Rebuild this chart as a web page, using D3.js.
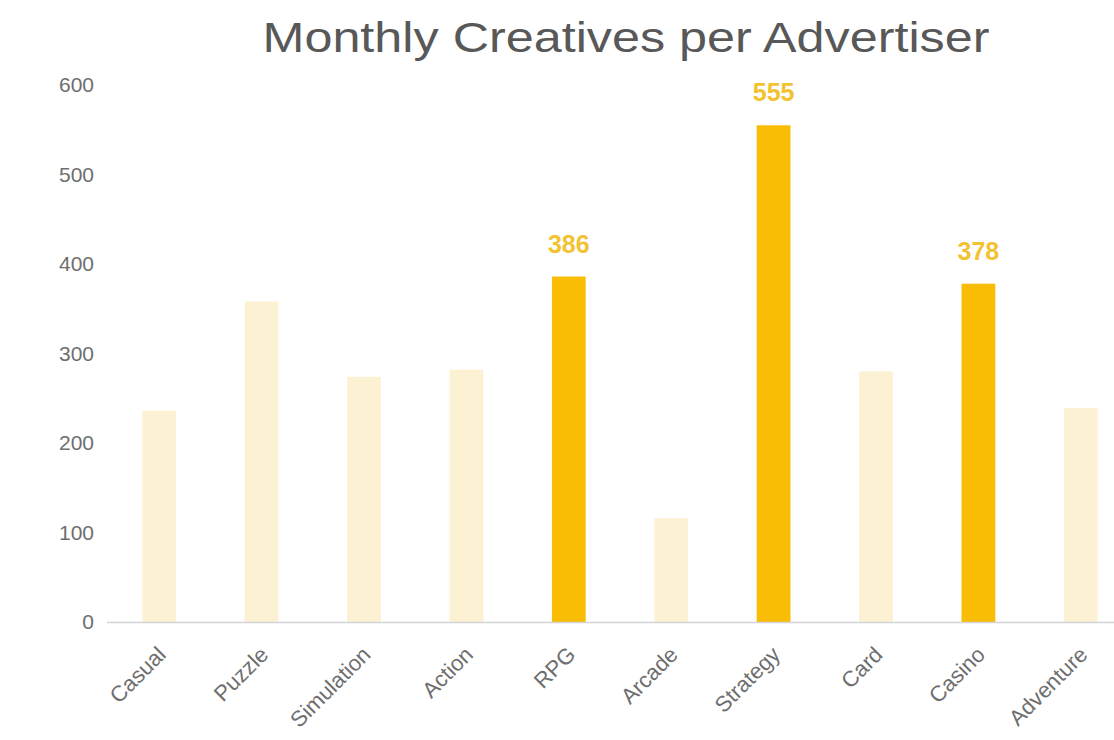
<!DOCTYPE html>
<html>
<head>
<meta charset="utf-8">
<script src="https://cdn.jsdelivr.net/npm/d3@7"></script>
<style>
  html, body { margin: 0; padding: 0; background: #fff; }
  svg { display: block; }
  text { font-family: "Liberation Sans", Arial, Helvetica, sans-serif; }
</style>
</head>
<body>
<svg id="chart" width="1114" height="740"></svg>
<script>
// Monthly creatives per advertiser, by game genre
const categories = ["Casual", "Puzzle", "Simulation", "Action", "RPG", "Arcade", "Strategy", "Card", "Casino", "Adventure"];
const creatives = [236, 358, 274, 282, 386, 116, 555, 280, 378, 239];
const highlighted = ["RPG", "Strategy", "Casino"];
const yTicks = [0, 100, 200, 300, 400, 500, 600];
const titleText = "Monthly Creatives per Advertiser";

const W = 1114, H = 740;
const svg = d3.select("#chart");

const x = d3.scaleBand()
  .domain(categories)
  .range([108, 1132])
  .paddingInner(0.67)
  .paddingOuter(0.335);

const y = d3.scaleLinear()
  .domain([0, 600])
  .range([622, 85]);

// Title
svg.append("text")
  .attr("x", 626)
  .attr("y", 52)
  .attr("text-anchor", "middle")
  .attr("font-size", 43)
  .attr("textLength", 727)
  .attr("lengthAdjust", "spacingAndGlyphs")
  .attr("fill", "#585858")
  .text(titleText);

// Y axis labels (no domain line, no ticks)
const yAxis = svg.append("g")
  .attr("transform", "translate(94,0)")
  .call(d3.axisLeft(y).tickValues(yTicks).tickSize(0).tickPadding(0));
yAxis.select(".domain").remove();
yAxis.selectAll("text")
  .attr("font-family", "Liberation Sans, Arial, sans-serif")
  .attr("font-size", 21)
  .attr("fill", "#6e6e6e");

// Bars
svg.append("g")
  .selectAll("rect")
  .data(categories)
  .join("rect")
  .attr("x", d => x(d))
  .attr("width", x.bandwidth())
  .attr("y", (d, i) => y(creatives[i]))
  .attr("height", (d, i) => y(0) - y(creatives[i]))
  .attr("fill", d => highlighted.includes(d) ? "#fabd05" : "#fdf1d4");

// Baseline
svg.append("line")
  .attr("x1", 107)
  .attr("x2", W)
  .attr("y1", y(0) + 0.5)
  .attr("y2", y(0) + 0.5)
  .attr("stroke", "#d2d4d8")
  .attr("stroke-width", 1.5);

// Value labels on highlighted bars
svg.append("g")
  .selectAll("text")
  .data(categories.map((c, i) => ({ c, v: creatives[i] })).filter(d => highlighted.includes(d.c)))
  .join("text")
  .attr("x", d => x(d.c) + x.bandwidth() / 2)
  .attr("y", d => y(d.v) - 24)
  .attr("text-anchor", "middle")
  .attr("font-size", 25)
  .attr("font-weight", "bold")
  .attr("fill", "#f3c233")
  .text(d => d.v);

// Rotated category labels
const xAxis = svg.append("g")
  .attr("transform", `translate(0,${y(0)})`)
  .call(d3.axisBottom(x).tickSize(0).tickPadding(0));
xAxis.select(".domain").remove();
xAxis.selectAll("text")
  .attr("font-family", "Liberation Sans, Arial, sans-serif")
  .attr("font-size", 22)
  .attr("fill", "#6e6e6e")
  .attr("text-anchor", "end")
  .attr("dy", 0)
  .attr("transform", "translate(8,34) rotate(-45)");
</script>
</body>
</html>
